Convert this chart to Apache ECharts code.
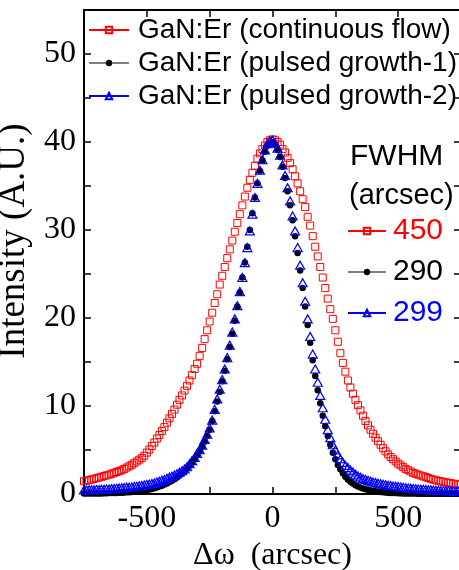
<!DOCTYPE html>
<html>
<head>
<meta charset="utf-8">
<script src="https://cdn.jsdelivr.net/npm/echarts@6/dist/echarts.min.js"></script>
<style>
  html, body { margin: 0; padding: 0; background: #fff; }
  #chart { width: 459px; height: 570px; }
</style>
</head>
<body>
<div id="chart"></div>
<script>
// rocking curve offsets (arcsec)
var omega = [
  -750, -740, -730, -720, -710, -700, -690, -680, -670, -660,
  -650, -640, -630, -620, -610, -600, -590, -580, -570, -560,
  -550, -540, -530, -520, -510, -500, -490, -480, -470, -460,
  -450, -440, -430, -420, -410, -400, -390, -380, -370, -360,
  -350, -340, -330, -320, -310, -300, -290, -280, -270, -260,
  -250, -240, -230, -220, -210, -200, -190, -180, -170, -160,
  -150, -140, -130, -120, -110, -100, -90, -80, -70, -60,
  -50, -40, -30, -20, -10, 0, 10, 20, 30, 40,
  50, 60, 70, 80, 90, 100, 110, 120, 130, 140,
  150, 160, 170, 180, 190, 200, 210, 220, 230, 240,
  250, 260, 270, 280, 290, 300, 310, 320, 330, 340,
  350, 360, 370, 380, 390, 400, 410, 420, 430, 440,
  450, 460, 470, 480, 490, 500, 510, 520, 530, 540,
  550, 560, 570, 580, 590, 600, 610, 620, 630, 640,
  650, 660, 670, 680, 690, 700, 710, 720, 730, 740,
  750
];
// continuous flow (FWHM 450)
var contFlow = [
  1.45, 1.52, 1.58, 1.65, 1.72, 1.8, 1.88, 1.96, 2.04, 2.12,
  2.2, 2.3, 2.4, 2.5, 2.6, 2.7, 2.85, 3.0, 3.15, 3.32,
  3.5, 3.7, 3.9, 4.1, 4.35, 4.7, 5.05, 5.45, 5.85, 6.3,
  6.7, 7.15, 7.6, 8.1, 8.6, 9.1, 9.6, 10.15, 10.7, 11.2,
  11.75, 12.3, 12.9, 13.5, 14.2, 14.8, 15.7, 16.6, 17.6, 18.6,
  19.6, 20.6, 21.7, 22.7, 23.8, 24.8, 25.8, 26.8, 27.8, 28.8,
  29.8, 30.8, 31.8, 32.8, 33.8, 34.8, 35.7, 36.5, 37.3, 38.1,
  38.7, 39.2, 39.6, 40.0, 40.2, 40.3, 40.2, 40.0, 39.7, 39.2,
  38.8, 38.2, 37.6, 36.9, 36.1, 35.3, 34.4, 33.5, 32.6, 31.5,
  30.5, 29.3, 28.1, 27.0, 25.8, 24.6, 23.4, 22.2, 21.0, 19.9,
  18.6, 17.3, 16.0, 14.9, 13.9, 12.9, 12.1, 11.4, 10.7, 10.1,
  9.5, 8.9, 8.3, 7.8, 7.3, 6.85, 6.4, 6.0, 5.6, 5.2,
  4.85, 4.5, 4.2, 3.95, 3.7, 3.45, 3.25, 3.05, 2.85, 2.7,
  2.55, 2.4, 2.3, 2.2, 2.1, 2.0, 1.92, 1.82, 1.72, 1.63,
  1.56, 1.5, 1.44, 1.38, 1.32, 1.27, 1.22, 1.17, 1.12, 1.07,
  1.02
];
// pulsed growth-1 (FWHM 290)
var pulsed1 = [
  0.05, 0.05, 0.05, 0.06, 0.06, 0.06, 0.07, 0.07, 0.08, 0.09,
  0.1, 0.1, 0.11, 0.12, 0.14, 0.15, 0.17, 0.19, 0.2, 0.23,
  0.25, 0.28, 0.32, 0.36, 0.4, 0.45, 0.51, 0.58, 0.66, 0.75,
  0.85, 0.95, 1.07, 1.2, 1.35, 1.5, 1.68, 1.88, 2.1, 2.35,
  2.6, 2.9, 3.2, 3.55, 3.95, 4.4, 4.85, 5.4, 5.95, 6.6,
  7.3, 8.3, 9.4, 10.5, 11.6, 12.8, 14.0, 15.3, 16.7, 18.2,
  19.7, 21.3, 22.9, 24.6, 26.3, 28.1, 30.0, 31.9, 33.7, 35.3,
  36.7, 37.9, 38.9, 39.6, 39.9, 40.0, 39.7, 39.1, 38.3, 37.2,
  35.9, 34.4, 32.8, 31.1, 29.3, 27.4, 25.4, 23.4, 21.3, 19.2,
  17.2, 15.2, 13.4, 11.8, 10.3, 8.9, 7.7, 6.6, 5.6, 4.7,
  3.95, 3.3, 2.8, 2.35, 1.95, 1.65, 1.4, 1.2, 1.0, 0.86,
  0.74, 0.62, 0.54, 0.47, 0.4, 0.35, 0.3, 0.26, 0.22, 0.19,
  0.16, 0.14, 0.12, 0.11, 0.1, 0.09, 0.08, 0.07, 0.06, 0.06,
  0.05, 0.05, 0.05, 0.04, 0.04, 0.04, 0.04, 0.03, 0.03, 0.03,
  0.03, 0.03, 0.02, 0.02, 0.02, 0.02, 0.02, 0.02, 0.02, 0.02,
  0.02
];
// pulsed growth-2 (FWHM 299)
var pulsed2 = [
  0.45, 0.46, 0.47, 0.48, 0.49, 0.51, 0.52, 0.53, 0.55, 0.56,
  0.58, 0.61, 0.63, 0.66, 0.68, 0.7, 0.73, 0.76, 0.78, 0.8,
  0.84, 0.88, 0.93, 0.97, 1.02, 1.07, 1.13, 1.18, 1.26, 1.35,
  1.45, 1.55, 1.66, 1.78, 1.9, 2.02, 2.15, 2.3, 2.48, 2.65,
  2.85, 3.1, 3.45, 3.8, 4.15, 4.6, 5.05, 5.55, 6.2, 6.8,
  7.5, 8.4, 9.6, 10.8, 11.9, 13.0, 14.2, 15.5, 16.9, 18.4,
  19.9, 21.4, 23.0, 24.6, 26.3, 28.0, 29.9, 31.8, 33.7, 35.3,
  36.8, 38.0, 39.1, 39.8, 40.1, 40.2, 39.9, 39.3, 38.5, 37.4,
  36.2, 34.8, 33.3, 31.6, 29.9, 28.0, 26.0, 24.0, 21.9, 19.9,
  17.9, 15.9, 14.2, 12.7, 11.2, 9.8, 8.5, 7.3, 6.4, 5.6,
  5.0, 4.45, 4.0, 3.6, 3.25, 3.0, 2.72, 2.5, 2.25, 2.05,
  1.9, 1.75, 1.65, 1.55, 1.45, 1.37, 1.3, 1.22, 1.17, 1.12,
  1.05, 1.0, 0.96, 0.92, 0.88, 0.84, 0.8, 0.76, 0.72, 0.69,
  0.66, 0.63, 0.6, 0.57, 0.55, 0.53, 0.51, 0.49, 0.47, 0.45,
  0.43, 0.42, 0.41, 0.39, 0.38, 0.37, 0.35, 0.34, 0.33, 0.31,
  0.3
];

var seriesNames = [
  "GaN:Er (continuous flow)",
  "GaN:Er (pulsed growth-1)",
  "GaN:Er (pulsed growth-2)"
];
var fwhmLabels = ["450", "290", "299"];
var seriesColors = ["#ff0000", "#000000", "#0000ff"];
var legendLineWidth = [2, 1.2, 2];

var serif = "Liberation Serif";
var sans = "Liberation Sans";

function pairs(ys) {
  return omega.map(function (x, i) { return [x, ys[i]]; });
}

var chart = echarts.init(document.getElementById("chart"));

var axisLine = { show: true, onZero: false, lineStyle: { color: "#000", width: 2 } };
var axisTick = { show: true, inside: true, length: 7, lineStyle: { color: "#000", width: 1.5 } };

function legendItems(withText) {
  return seriesNames.map(function (n, i) {
    var item = {
      name: n,
      lineStyle: { color: seriesColors[i], width: legendLineWidth[i], opacity: 1 }
    };
    if (withText) item.textStyle = { color: seriesColors[i] };
    return item;
  });
}

chart.setOption({
  animation: false,
  backgroundColor: "#fff",
  grid: { left: 84, right: -2, top: 10, bottom: 76, outerBoundsMode: "none", containLabel: false },
  xAxis: [
    {
      type: "value",
      min: -750,
      max: 750,
      interval: 250,
      name: "\u0394\u03c9  (arcsec)",
      nameLocation: "middle",
      nameGap: 38,
      nameTextStyle: { fontFamily: serif, fontSize: 32, color: "#000" },
      axisLine: axisLine,
      axisTick: axisTick,
      splitLine: { show: false },
      axisLabel: {
        fontFamily: serif, fontSize: 32, color: "#000", margin: 9,
        showMinLabel: true, showMaxLabel: true,
        formatter: function (v) {
          return (v % 500 === 0 && Math.abs(v) < 750) ? String(v) : "";
        }
      }
    },
    {
      type: "value",
      position: "top",
      min: -750,
      max: 750,
      interval: 250,
      axisLine: axisLine,
      axisTick: axisTick,
      axisLabel: { show: false },
      splitLine: { show: false }
    }
  ],
  yAxis: [
    {
      type: "value",
      min: 0,
      max: 55,
      interval: 5,
      name: "Intensity (A.U.)",
      nameLocation: "middle",
      nameGap: 43,
      nameTextStyle: { fontFamily: serif, fontSize: 37, color: "#000", padding: [0, 0, 0, 22] },
      axisLine: axisLine,
      axisTick: axisTick,
      splitLine: { show: false },
      axisLabel: {
        fontFamily: serif, fontSize: 32, color: "#000", margin: 8,
        formatter: function (v) {
          return (v % 10 === 0 && v <= 50) ? String(v) : "";
        }
      }
    },
    {
      type: "value",
      position: "right",
      min: 0,
      max: 55,
      interval: 5,
      axisLine: axisLine,
      axisTick: axisTick,
      axisLabel: { show: false },
      splitLine: { show: false }
    }
  ],
  legend: [
    {
      orient: "vertical",
      left: 88,
      top: 15,
      padding: 0,
      itemWidth: 40,
      itemHeight: 8,
      itemGap: 3,
      data: legendItems(false),
      textStyle: { fontFamily: sans, fontSize: 28, color: "#000", lineHeight: 30, padding: [0, 0, 0, 4] }
    },
    {
      orient: "vertical",
      left: 347,
      top: 215,
      padding: 0,
      itemWidth: 38,
      itemHeight: 8,
      itemGap: 9,
      formatter: function (name) {
        return fwhmLabels[seriesNames.indexOf(name)];
      },
      data: legendItems(true),
      textStyle: { fontFamily: sans, fontSize: 30, lineHeight: 32, padding: [0, 0, 0, 2] }
    }
  ],
  graphic: [
    {
      type: "text", left: 350, top: 142,
      style: { text: "FWHM", font: "30px 'Liberation Sans'", fill: "#000" }
    },
    {
      type: "text", left: 349, top: 181,
      style: { text: "(arcsec)", font: "29px 'Liberation Sans'", fill: "#000" }
    }
  ],
  series: [
    {
      name: seriesNames[0],
      type: "line",
      data: pairs(contFlow),
      symbol: "rect",
      symbolSize: 7,
      showAllSymbol: true,
      color: seriesColors[0],
      lineStyle: { color: seriesColors[0], width: 0, opacity: 0 },
      itemStyle: { color: "rgba(255,255,255,0)", borderColor: seriesColors[0], borderWidth: 1 }
    },
    {
      name: seriesNames[1],
      type: "line",
      data: pairs(pulsed1),
      symbol: "circle",
      symbolSize: 6.5,
      showAllSymbol: true,
      color: seriesColors[1],
      lineStyle: { color: seriesColors[1], width: 0, opacity: 0 },
      itemStyle: { color: seriesColors[1] }
    },
    {
      name: seriesNames[2],
      type: "line",
      data: pairs(pulsed2),
      symbol: "triangle",
      symbolSize: [9, 8],
      showAllSymbol: true,
      color: seriesColors[2],
      lineStyle: { color: seriesColors[2], width: 0, opacity: 0 },
      itemStyle: { color: "rgba(255,255,255,0)", borderColor: seriesColors[2], borderWidth: 1.2 }
    }
  ]
});
</script>
</body>
</html>
